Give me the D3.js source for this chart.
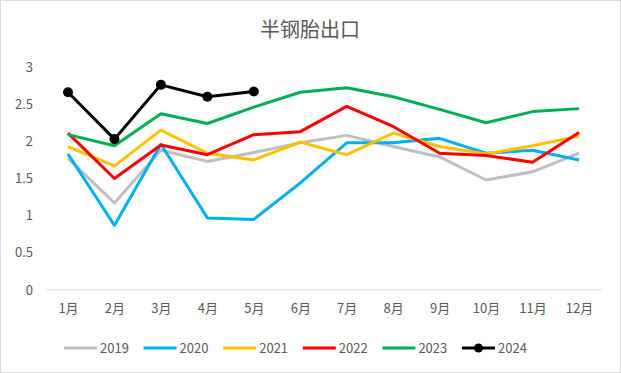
<!DOCTYPE html>
<html>
<head>
<meta charset="utf-8">
<script src="https://cdn.jsdelivr.net/npm/d3@7"></script>
<style>
  body { margin: 0; background: #fff; }
  svg { display: block; font-family: "Noto Sans CJK SC", "Noto Sans", sans-serif; }
</style>
</head>
<body>
<svg width="621" height="373"></svg>
<script>
var months = ["1月", "2月", "3月", "4月", "5月", "6月", "7月", "8月", "9月", "10月", "11月", "12月"];
var yTicks = [0, 0.5, 1, 1.5, 2, 2.5, 3];

var v2019 = [1.77, 1.17, 1.88, 1.73, 1.85, 1.98, 2.08, 1.93, 1.79, 1.48, 1.59, 1.84];
var v2020 = [1.83, 0.87, 1.96, 0.97, 0.95, 1.44, 1.98, 1.98, 2.04, 1.84, 1.88, 1.75];
var v2021 = [1.93, 1.67, 2.15, 1.84, 1.75, 1.99, 1.82, 2.11, 1.93, 1.83, 1.94, 2.07];
var v2022 = [2.11, 1.50, 1.95, 1.82, 2.09, 2.13, 2.47, 2.20, 1.84, 1.81, 1.72, 2.12];
var v2023 = [2.09, 1.94, 2.37, 2.24, 2.46, 2.66, 2.72, 2.60, 2.43, 2.25, 2.40, 2.44];
var v2024 = [2.66, 2.03, 2.76, 2.60, 2.67];

var series = [
  { name: "2019", values: v2019, color: "#BFBFBF" },
  { name: "2020", values: v2020, color: "#00B0F0" },
  { name: "2021", values: v2021, color: "#FFC000" },
  { name: "2022", values: v2022, color: "#FF0000" },
  { name: "2023", values: v2023, color: "#00B050" },
  { name: "2024", values: v2024, color: "#000000", dots: true }
];

var svg = d3.select("svg");

// borde del grafico
svg.append("rect")
  .attr("x", 0.5).attr("y", 0.5)
  .attr("width", 620).attr("height", 372)
  .attr("fill", "#fff")
  .attr("stroke", "#D9D9D9");

// titulo
svg.append("text")
  .attr("x", 310)
  .attr("y", 37)
  .attr("text-anchor", "middle")
  .attr("font-size", "20px")
  .attr("fill", "#595959")
  .text("半钢胎出口");

var x = d3.scalePoint().domain(months).range([68, 579]);
var y = d3.scaleLinear().domain([0, 3]).range([290, 67]);

// eje Y (solo etiquetas)
svg.append("g")
  .selectAll("text")
  .data(yTicks)
  .enter()
  .append("text")
  .attr("x", 33)
  .attr("y", function (d) { return y(d); })
  .attr("dy", "0.35em")
  .attr("text-anchor", "end")
  .attr("font-size", "13px")
  .attr("fill", "#595959")
  .text(function (d) { return d; });

// eje X
var xAxis = svg.append("g")
  .attr("transform", "translate(0,290)")
  .call(d3.axisBottom(x).tickSize(0).tickPadding(14));
xAxis.select(".domain").remove();
xAxis.append("line")
  .attr("x1", 46).attr("x2", 602)
  .attr("stroke", "#D9D9D9").attr("stroke-width", 1);
xAxis.selectAll("text")
  .attr("font-size", "13px")
  .attr("font-family", "\"Noto Sans CJK SC\", sans-serif")
  .attr("fill", "#595959");

var line = d3.line()
  .x(function (d, i) { return x(months[i]); })
  .y(function (d) { return y(d); });

series.forEach(function (s) {
  svg.append("path")
    .datum(s.values)
    .attr("d", line)
    .attr("fill", "none")
    .attr("stroke", s.color)
    .attr("stroke-width", 3)
    .attr("stroke-linejoin", "round");
  if (s.dots) {
    svg.selectAll(".dot" + s.name)
      .data(s.values)
      .enter()
      .append("circle")
      .attr("cx", function (d, i) { return x(months[i]); })
      .attr("cy", function (d) { return y(d); })
      .attr("r", 5)
      .attr("fill", s.color);
  }
});

// leyenda
var legend = svg.append("g").attr("transform", "translate(64,348)");
var item = legend.selectAll("g")
  .data(series)
  .enter()
  .append("g")
  .attr("transform", function (d, i) { return "translate(" + (i * 79.6) + ",0)"; });
item.append("line")
  .attr("x1", 0).attr("x2", 33)
  .attr("stroke", function (d) { return d.color; })
  .attr("stroke-width", 3);
item.filter(function (d) { return d.dots; })
  .append("circle")
  .attr("cx", 16.5).attr("r", 4.5)
  .attr("fill", function (d) { return d.color; });
item.append("text")
  .attr("x", 36)
  .attr("dy", "0.35em")
  .attr("font-size", "13px")
  .attr("fill", "#595959")
  .text(function (d) { return d.name; });
</script>
</body>
</html>
